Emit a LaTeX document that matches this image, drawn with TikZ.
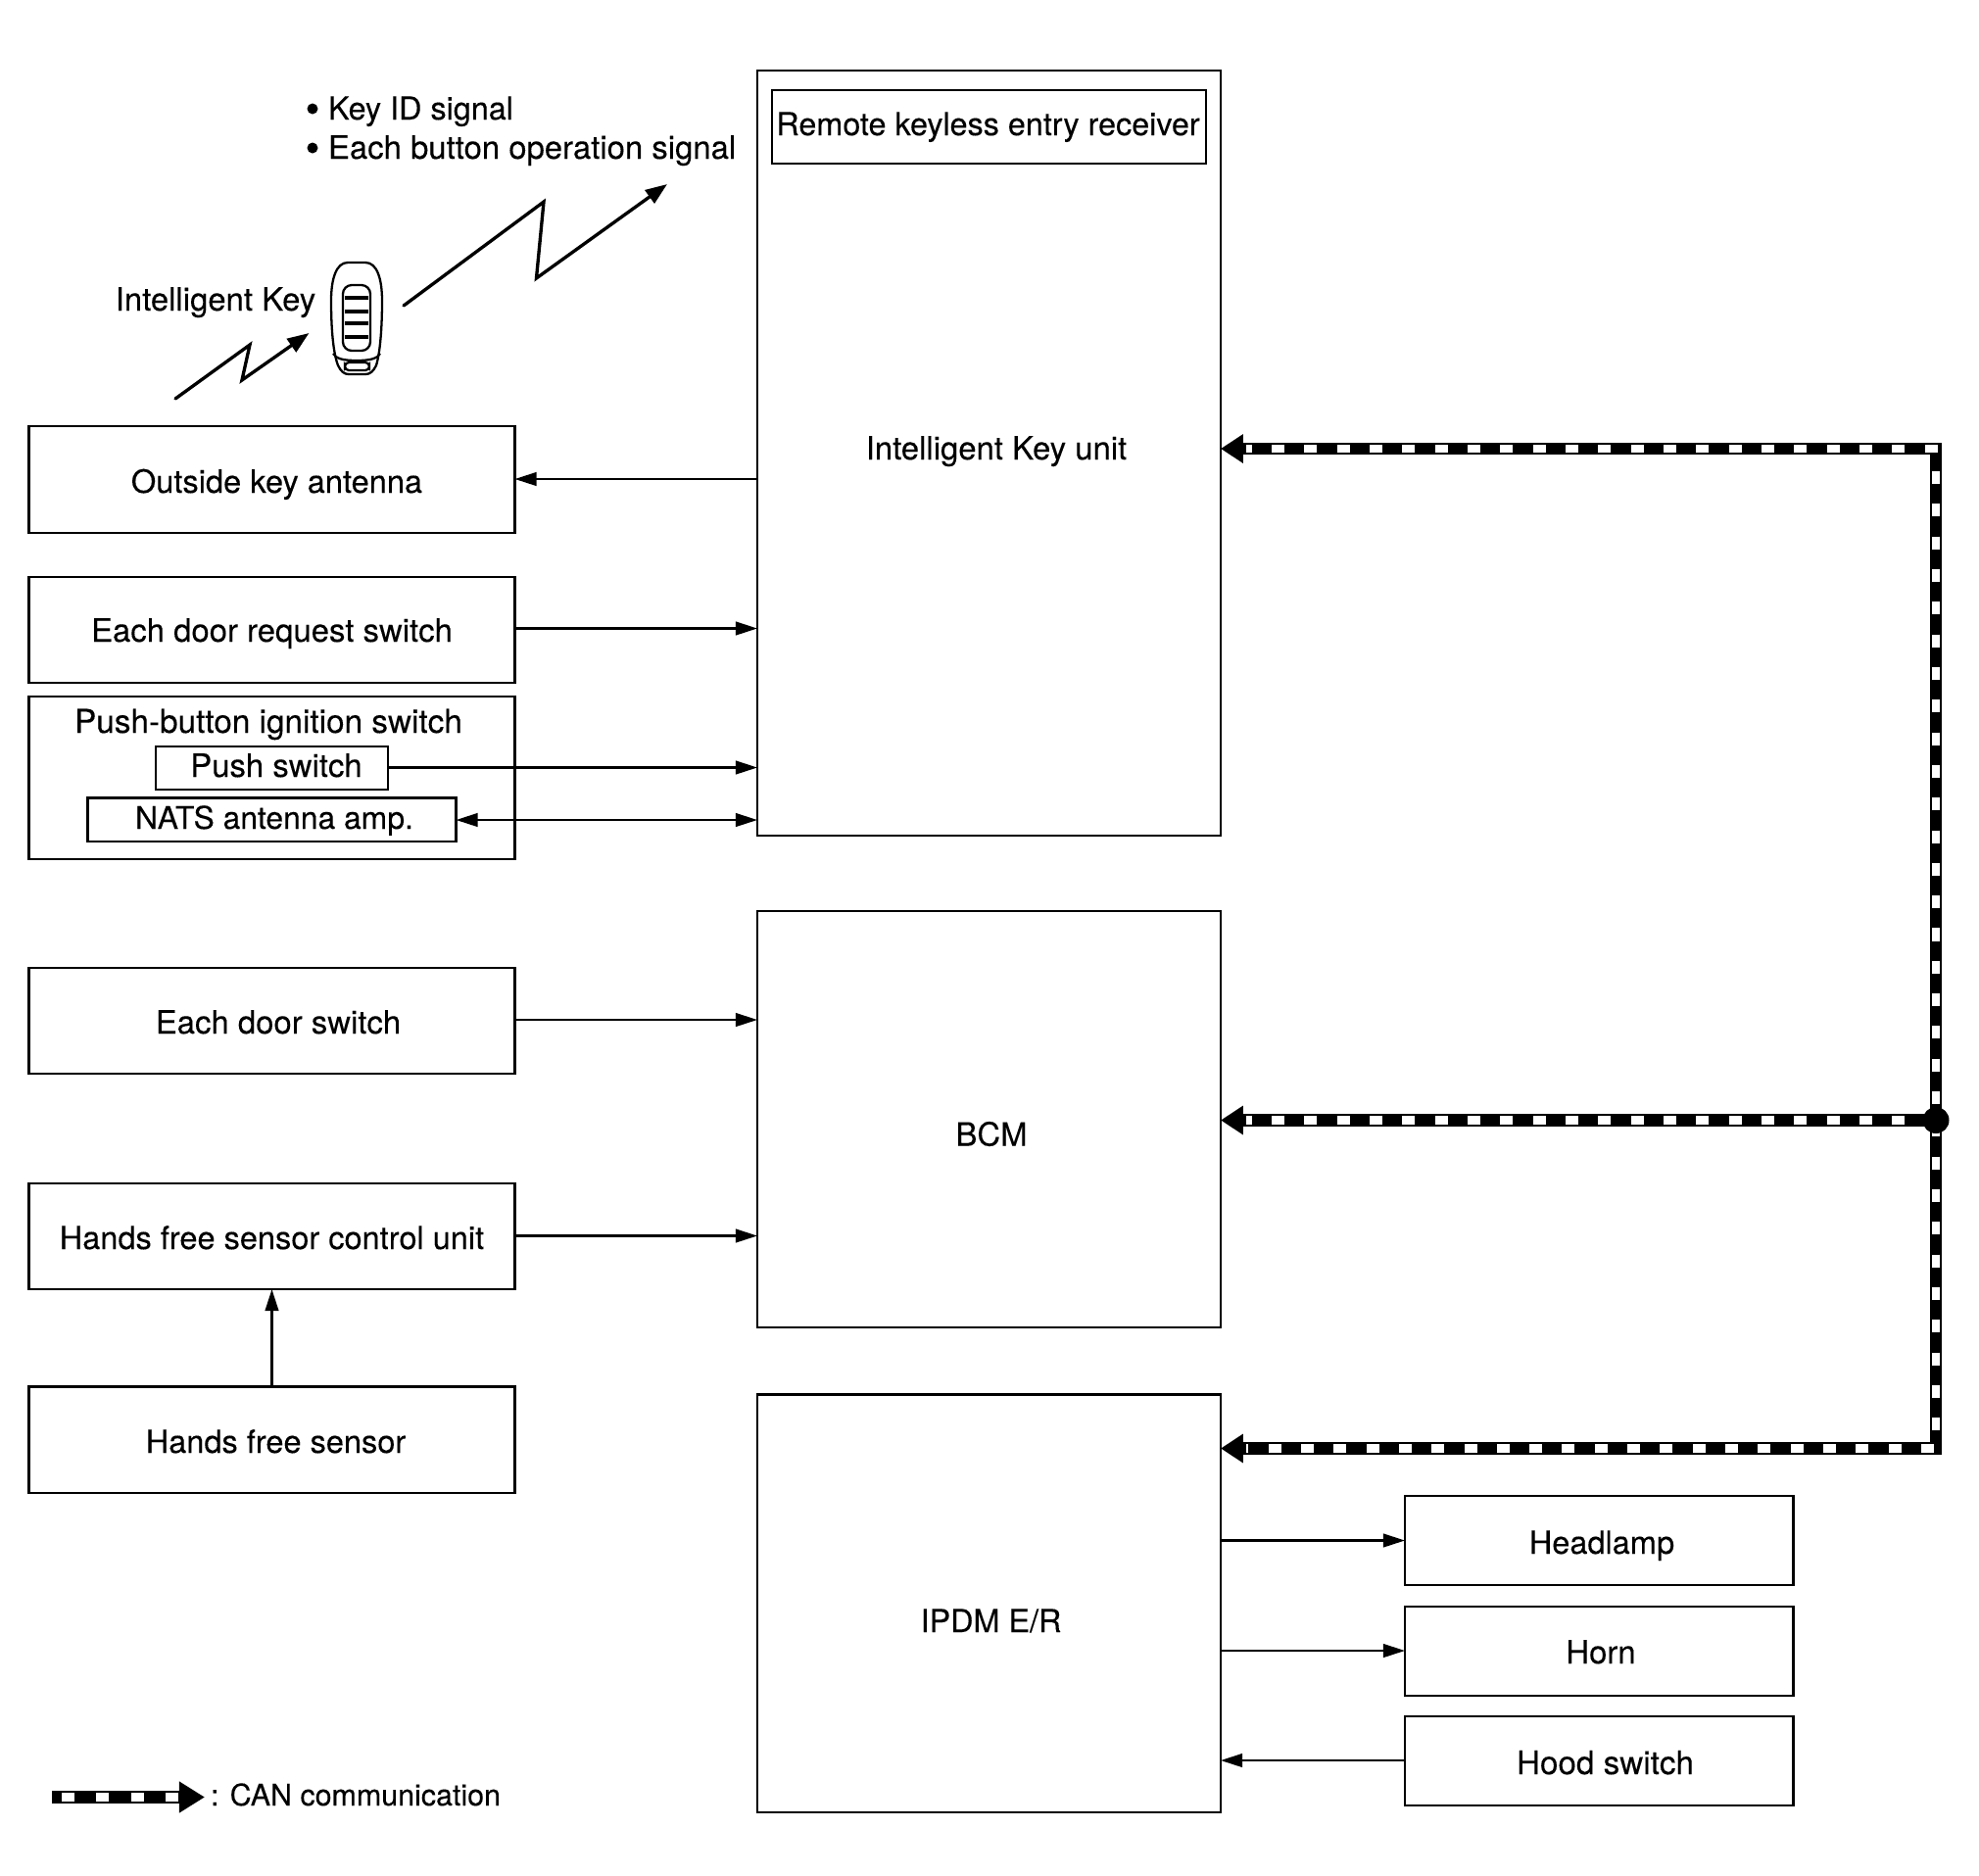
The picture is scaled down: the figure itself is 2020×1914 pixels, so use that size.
\documentclass[tikz,border=0pt]{standalone}
\usepackage{fontspec}
\setmainfont{TeX Gyre Heros}
\usetikzlibrary{arrows.meta}
\tikzset{
  x=0.01cm,y=-0.01cm,
  boxn/.style={draw=black,line width=0.6pt,fill=none,inner sep=0pt,outer sep=0pt},
  lab/.style={anchor=base,inner sep=0pt,outer sep=0pt,font=\addfontfeatures{FakeBold=0.12}\fontsize{9.35}{11}\selectfont},
  fsize/.style={font=\addfontfeatures{FakeBold=0.12}\fontsize{#1}{11}\selectfont},
  sig/.style={line width=0.6pt,draw=black},
  tipA/.tip={Triangle[length=6.3pt,width=3.9pt]},
  tipC/.tip={Triangle[length=6.5pt,width=8pt]},
  tipZ/.tip={Triangle[length=6.3pt,width=4.6pt]},
  zig/.style={line width=0.95pt,line cap=round,miter limit=20,draw=black},
  canblack/.style={line width=3.5pt,draw=black},
  canwhite/.style={line width=2.3pt,draw=white,dash pattern=on 3.7pt off 5.775pt},
  keyl/.style={line width=0.65pt,draw=black},
}
\newcommand{\bx}[5]{\node[boxn,minimum width=(#4-#2)*0.01cm,minimum height=(#5-#3)*0.01cm] (#1) at ({(#2+#4)/2},{(#3+#5)/2}) {};}
\begin{document}
\begin{tikzpicture}
\path[fill=white] (0,0) rectangle (2020,1914);
\useasboundingbox (0,0) rectangle (2020,1914);

% boxes
\bx{ik}{773}{72}{1246}{853}
\bx{rx}{788}{92}{1231}{167}
\bx{outside}{29.5}{435}{525.5}{544}
\bx{req}{29.5}{589}{525.5}{697}
\bx{pbi}{29.5}{711}{525.5}{877}
\bx{push}{159}{762}{396}{806}
\bx{nats}{89.5}{814.5}{465.5}{859}
\bx{dsw}{29.5}{988}{525.5}{1096}
\bx{hfc}{29.5}{1208}{525.5}{1316}
\bx{hfs}{29.5}{1415.5}{525.5}{1524}
\bx{bcm}{773}{930}{1246}{1355}
\bx{ipdm}{773}{1423.5}{1246}{1850}
\bx{head}{1434}{1527}{1830.5}{1618}
\bx{horn}{1434}{1640}{1830.5}{1731}
\bx{hood}{1434}{1752}{1830.5}{1843}

% labels
\node[lab,fsize=9.2] (t1) at (1008.5,138) {Remote keyless entry receiver};
\node[lab] (t2) at (1017,469) {Intelligent Key unit};
\node[lab] (t3) at (220,317) {Intelligent Key};
\node[lab,fsize=9.27] (t4) at (282.5,503) {Outside key antenna};
\node[lab] (t5) at (277.5,655) {Each door request switch};
\node[lab,fsize=9.47] (t6) at (274,748) {Push-button ignition switch};
\node[lab] (t7) at (282,793) {Push switch};
\node[lab,fsize=9.05] (t8) at (280,846) {NATS antenna amp.};
\node[lab] (t9) at (284,1055) {Each door switch};
\node[lab,fsize=9.25] (t10) at (277.5,1275) {Hands free sensor control unit};
\node[lab,fsize=9.25] (t11) at (281.5,1483) {Hands free sensor};
\node[lab] (t12) at (1012,1169.5) {BCM};
\node[lab,fsize=9.2] (t13) at (1011.5,1666) {IPDM E/R};
\node[lab,fsize=9.25] (t14) at (1635,1586) {Headlamp};
\node[lab] (t15) at (1634,1698) {Horn};
\node[lab,fsize=9.45] (t16) at (1638.5,1811) {Hood switch};
\node[lab,anchor=base west,fsize=9.2] (t17) at (335,122) {Key ID signal};
\node[lab,anchor=base west] (t18) at (335,162) {Each button operation signal};
\node[lab,anchor=base west,fsize=8.65] (t19) at (215,1843) {: CAN communication};
\fill (319,111) circle (5.5);
\fill (319,151) circle (5.5);

% thin signal connectors
\coordinate (r1) at (0,489);
\coordinate (r2) at (0,641.5);
\coordinate (r3) at (0,783.5);
\coordinate (r4) at (0,837);
\coordinate (r5) at (0,1041);
\coordinate (r6) at (0,1261.5);
\coordinate (r7) at (0,1572.5);
\coordinate (r8) at (0,1685);
\coordinate (r9) at (0,1797);
\draw[sig,-{tipA}] (ik.west |- r1) -- (outside.east |- r1);
\draw[sig,-{tipA}] (req.east |- r2) -- (ik.west |- r2);
\draw[sig,-{tipA}] (push.east |- r3) -- (ik.west |- r3);
\draw[sig,{tipA}-{tipA}] (nats.east |- r4) -- (ik.west |- r4);
\draw[sig,-{tipA}] (dsw.east |- r5) -- (bcm.west |- r5);
\draw[sig,-{tipA}] (hfc.east |- r6) -- (bcm.west |- r6);
\draw[sig,-{tipA}] (hfs.north) -- (hfc.south);
\draw[sig,-{tipA}] (ipdm.east |- r7) -- (head.west |- r7);
\draw[sig,-{tipA}] (ipdm.east |- r8) -- (horn.west |- r8);
\draw[sig,-{tipA}] (hood.west |- r9) -- (ipdm.east |- r9);

% CAN bus
\coordinate (cT) at (1976,458);
\coordinate (cM) at (1976,1143.5);
\coordinate (cB) at (1976,1478.5);
\coordinate (wT) at (1977.5,458);
\coordinate (wM) at (1977.5,1143.5);
\coordinate (wB) at (1974,1478.5);
\coordinate (aT) at (1272,458);
\coordinate (aM) at (1272,1143.5);
\coordinate (aB) at (1272,1478.5);
\coordinate (vS) at (1976,481);
\coordinate (vE) at (1976,1466);
\draw[canblack,{tipC}-{tipC}] (ik.east |- cT) -- (cT) -- (cB) -- (ipdm.east |- cB);
\draw[canblack,{tipC}-] (bcm.east |- cM) -- (cM);
\draw[canwhite] (wT) -- (aT);
\draw[canwhite] (wM) -- (aM);
\draw[canwhite] (wB) -- (aB);
\draw[canwhite] (vS) -- (vE);
\node[circle,fill=black,draw=none,inner sep=0pt,minimum size=0.27cm] (jct) at (cM) {};

% legend arrow
\coordinate (lA) at (53,1834.5);
\coordinate (lB) at (209,1834.5);
\coordinate (lW) at (63,1834.5);
\coordinate (lX) at (183,1834.5);
\draw[canblack,-{Triangle[length=7.4pt,width=8.6pt]}] (lA) -- (lB);
\draw[line width=2.3pt,draw=white,dash pattern=on 3.7pt off 6.34pt] (lW) -- (lX);

% wireless zigzags
\coordinate (z1) at (412,312);
\coordinate (z2) at (555,206);
\coordinate (z3) at (547.5,284);
\coordinate (z4) at (681,188);
\draw[zig,-{tipZ}] (z1) -- (z2) -- (z3) -- (z4);
\coordinate (y1) at (179,407);
\coordinate (y2) at (255,352);
\coordinate (y3) at (247,388);
\coordinate (y4) at (315.5,340);
\draw[zig,-{tipZ}] (y1) -- (y2) -- (y3) -- (y4);

% key fob
\draw[keyl] (355,268) .. controls (343,268) and (338,285) .. (338,307)
  .. controls (338,335) and (340,360) .. (345,373)
  .. controls (348,379) and (351,382) .. (356,382) -- (373,382)
  .. controls (378,382) and (381,379) .. (384,373)
  .. controls (388,360) and (390,335) .. (390,307)
  .. controls (390,285) and (385,268) .. (373,268) -- cycle;
\draw[keyl] (340,361) .. controls (343,366) and (350,368) .. (364,368)
  .. controls (378,368) and (385,366) .. (388,361);
\draw[keyl,rounded corners=0.04cm] (352,370) rectangle (377,378);
\draw[keyl,rounded corners=0.09cm] (350,291) rectangle (378,358);
\foreach \yy in {304,318,330,344} \draw[line width=0.9pt] (352,\yy) -- (376,\yy);
\end{tikzpicture}
\end{document}
